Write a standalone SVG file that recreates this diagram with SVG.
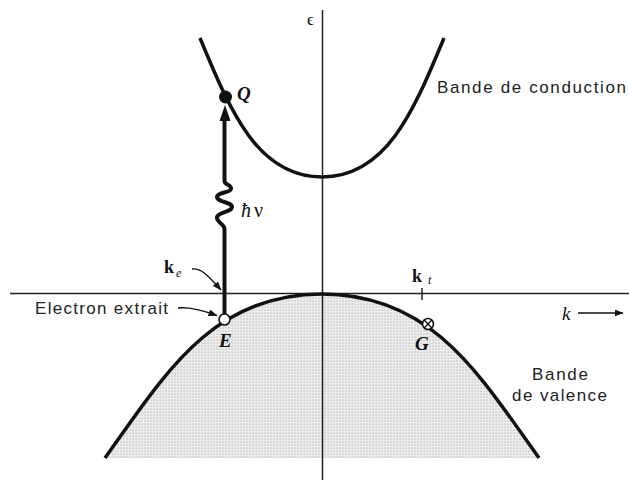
<svg xmlns="http://www.w3.org/2000/svg" width="629" height="481" viewBox="0 0 629 481">
<style>
.axis{stroke:#222;stroke-width:1.5;fill:none}
.band{stroke:#111;stroke-width:3.5;fill:none;stroke-linecap:butt}
.lead{stroke:#111;stroke-width:1.4;fill:none}
.sans{font-family:"Liberation Sans",Arial,sans-serif;fill:#222}
.ser{font-family:"Liberation Serif","Times New Roman",serif;fill:#111}
</style>
<defs>
<pattern id="dots" width="3" height="3" patternUnits="userSpaceOnUse">
<rect width="3" height="3" fill="#eeeeee"/>
<rect x="0.5" y="0.5" width="1.2" height="1.2" fill="#b4b4b4"/>
</pattern>
<marker id="ah" markerWidth="9" markerHeight="7" refX="8.5" refY="3.5" orient="auto" markerUnits="userSpaceOnUse">
<path d="M0,0 L9,3.5 L0,7 Z" fill="#111"/>
</marker>
</defs>
<rect width="629" height="481" fill="#fff"/>
<g id="valence-fill">
<path d="M105,458 C165,374 212,294 322,294 C432,294 479,374 539,458 Z" fill="url(#dots)"/>
</g>
<g id="axes">
<line class="axis" x1="322.5" y1="10" x2="322.5" y2="480"/>
<line class="axis" x1="10" y1="293.5" x2="629" y2="293.5"/>
<line class="axis" x1="422" y1="288" x2="422" y2="300"/>
<text class="ser" x="307" y="25" font-size="17">ϵ</text>
</g>
<g id="conduction-band">
<path class="band" d="M200,38 C230,110 257,177 322,177 C387,177 414,110 444,38"/>
<text class="sans" x="437" y="93" font-size="17" textLength="189" lengthAdjust="spacing">Bande de conduction</text>
</g>
<g id="valence-band">
<path class="band" d="M105,458 C165,374 212,294 322,294 C432,294 479,374 539,458"/>
<text class="sans" x="532" y="380" font-size="17" textLength="56" lengthAdjust="spacing">Bande</text>
<text class="sans" x="512" y="401" font-size="17" textLength="95" lengthAdjust="spacing">de valence</text>
</g>
<g id="connectors">
<path d="M224.5,314 L224.5,229 C224.5,224 216,222 217,217 C218,212 232,212 232,207 C232,202 217,202 217,197 C217,192 232,193 231,188 C230,184 224.5,185 224.5,181 L224.5,119" fill="none" stroke="#111" stroke-width="4"/>
<path d="M225,105 L230.5,121 L219.5,121 Z" fill="#111"/>
<path class="lead" d="M192,269 C200,268 206,273 221,290" marker-end="url(#ah)"/>
<path class="lead" d="M178,308 C190,307 201,310 217,315.5" marker-end="url(#ah)"/>
<line class="lead" x1="578" y1="313" x2="623" y2="313" marker-end="url(#ah)"/>
</g>
<g id="Q">
<circle cx="225.5" cy="97" r="6.5" fill="#111"/>
<text class="ser" x="237" y="100" font-size="19" font-style="italic" font-weight="bold">Q</text>
</g>
<g id="photon-label">
<text class="ser" x="241" y="217" font-size="20" font-style="italic">ħ</text>
<text class="ser" x="254" y="217" font-size="20">ν</text>
</g>
<g id="ke">
<text class="ser" x="164" y="273" font-size="18" font-weight="bold">k</text>
<text class="ser" x="176" y="277" font-size="12" font-style="italic">e</text>
</g>
<g id="kt">
<text class="ser" x="412" y="282" font-size="18" font-weight="bold">k</text>
<text class="ser" x="428" y="284" font-size="12" font-style="italic">t</text>
</g>
<g id="E">
<circle cx="224.5" cy="319.5" r="5.5" fill="#fff" stroke="#111" stroke-width="1.6"/>
<text class="ser" x="219" y="347" font-size="19" font-style="italic" font-weight="bold">E</text>
<text class="sans" x="35" y="314" font-size="17" textLength="133" lengthAdjust="spacing">Electron extrait</text>
</g>
<g id="G">
<circle cx="428" cy="324" r="5.5" fill="#fff" stroke="#111" stroke-width="1.6"/>
<path d="M424.1,320.1 L431.9,327.9 M431.9,320.1 L424.1,327.9" stroke="#111" stroke-width="1.4"/>
<text class="ser" x="415" y="350" font-size="19" font-style="italic" font-weight="bold">G</text>
</g>
<g id="k-axis">
<text class="ser" x="562" y="320" font-size="19" font-style="italic">k</text>
</g>
</svg>
